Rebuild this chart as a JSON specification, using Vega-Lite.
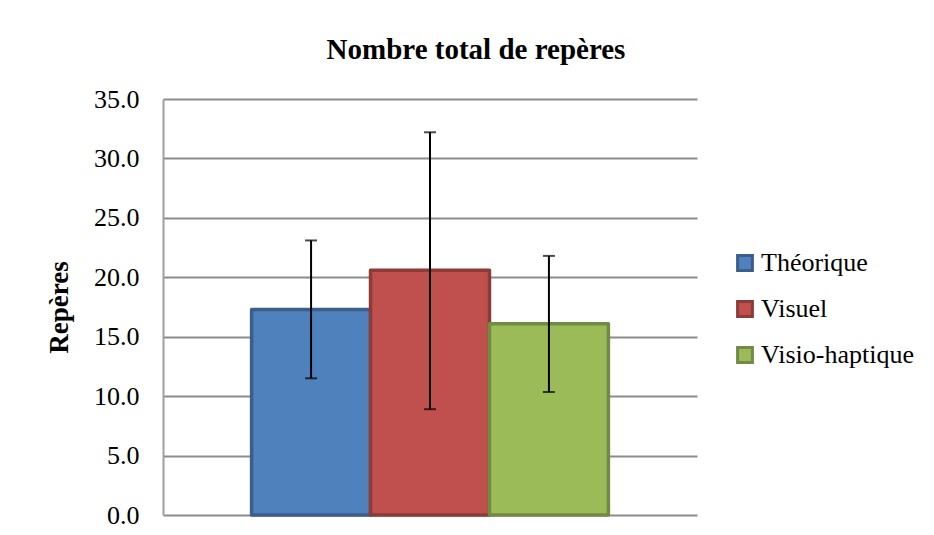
{
  "$schema": "https://vega.github.io/schema/vega-lite/v6.json",
  "autosize": "none",
  "width": 534,
  "height": 416,
  "padding": {"left": 163, "top": 99, "right": 237, "bottom": 20},
  "background": "white",
  "title": {
    "text": "Nombre total de repères",
    "font": "Times New Roman, Liberation Serif, serif",
    "fontSize": 29,
    "fontWeight": "bold",
    "color": "black",
    "anchor": "middle",
    "dx": 46,
    "offset": 21
  },
  "data": {
    "values": [
      {"groupe": "Théorique", "moyenne": 17.3, "bas": 11.5, "haut": 23.1},
      {"groupe": "Visuel", "moyenne": 20.6, "bas": 8.9, "haut": 32.2},
      {"groupe": "Visio-haptique", "moyenne": 16.1, "bas": 10.35, "haut": 21.8}
    ]
  },
  "encoding": {
    "x": {
      "field": "groupe",
      "type": "nominal",
      "sort": ["Théorique", "Visuel", "Visio-haptique"],
      "scale": {"paddingInner": 0, "paddingOuter": 0.745},
      "axis": null
    }
  },
  "layer": [
    {
      "mark": {"type": "bar", "strokeWidth": 3.5, "strokeJoin": "round"},
      "encoding": {
        "y": {
          "field": "moyenne",
          "type": "quantitative",
          "scale": {"domain": [0, 35]},
          "axis": {
            "title": "Repères",
            "values": [0, 5, 10, 15, 20, 25, 30, 35],
            "format": ".1f",
            "ticks": false,
            "labelPadding": 24,
            "labelFont": "Times New Roman, Liberation Serif, serif",
            "labelFontSize": 26,
            "labelColor": "black",
            "titleFont": "Times New Roman, Liberation Serif, serif",
            "titleFontSize": 27,
            "titleFontWeight": "bold",
            "titleColor": "black",
            "titlePadding": 20,
            "grid": true,
            "gridColor": "#8c8c8c",
            "gridWidth": 2,
            "domainColor": "#a0a0a0",
            "domainWidth": 2
          }
        },
        "color": {
          "field": "groupe",
          "type": "nominal",
          "sort": ["Théorique", "Visuel", "Visio-haptique"],
          "scale": {
            "domain": ["Théorique", "Visuel", "Visio-haptique"],
            "range": ["#4F81BD", "#C0504D", "#9BBB59"]
          },
          "legend": {
            "title": null,
            "orient": "none",
            "legendX": 569,
            "legendY": 151,
            "symbolType": "square",
            "symbolSize": 220,
            "symbolStrokeWidth": 3,
            "labelFont": "Times New Roman, Liberation Serif, serif",
            "labelFontSize": 26,
            "labelColor": "black",
            "labelOffset": 3,
            "rowPadding": 18,
            "labelLimit": 300
          }
        },
        "stroke": {
          "field": "groupe",
          "type": "nominal",
          "sort": ["Théorique", "Visuel", "Visio-haptique"],
          "scale": {
            "domain": ["Théorique", "Visuel", "Visio-haptique"],
            "range": ["#3A5F8B", "#8D3B39", "#728B42"]
          },
          "legend": {
            "title": null,
            "orient": "none",
            "legendX": 569,
            "legendY": 151,
            "symbolType": "square",
            "symbolSize": 220,
            "symbolStrokeWidth": 3,
            "labelFont": "Times New Roman, Liberation Serif, serif",
            "labelFontSize": 26,
            "labelColor": "black",
            "labelOffset": 3,
            "rowPadding": 18,
            "labelLimit": 300
          }
        }
      }
    },
    {
      "mark": {"type": "rule", "color": "black", "strokeWidth": 2},
      "encoding": {
        "y": {"field": "bas", "type": "quantitative"},
        "y2": {"field": "haut"}
      }
    },
    {
      "mark": {"type": "tick", "color": "black", "thickness": 2, "size": 12},
      "encoding": {"y": {"field": "bas", "type": "quantitative"}}
    },
    {
      "mark": {"type": "tick", "color": "black", "thickness": 2, "size": 12},
      "encoding": {"y": {"field": "haut", "type": "quantitative"}}
    }
  ],
  "config": {
    "view": {"stroke": null},
    "font": "Times New Roman, Liberation Serif, serif"
  }
}
